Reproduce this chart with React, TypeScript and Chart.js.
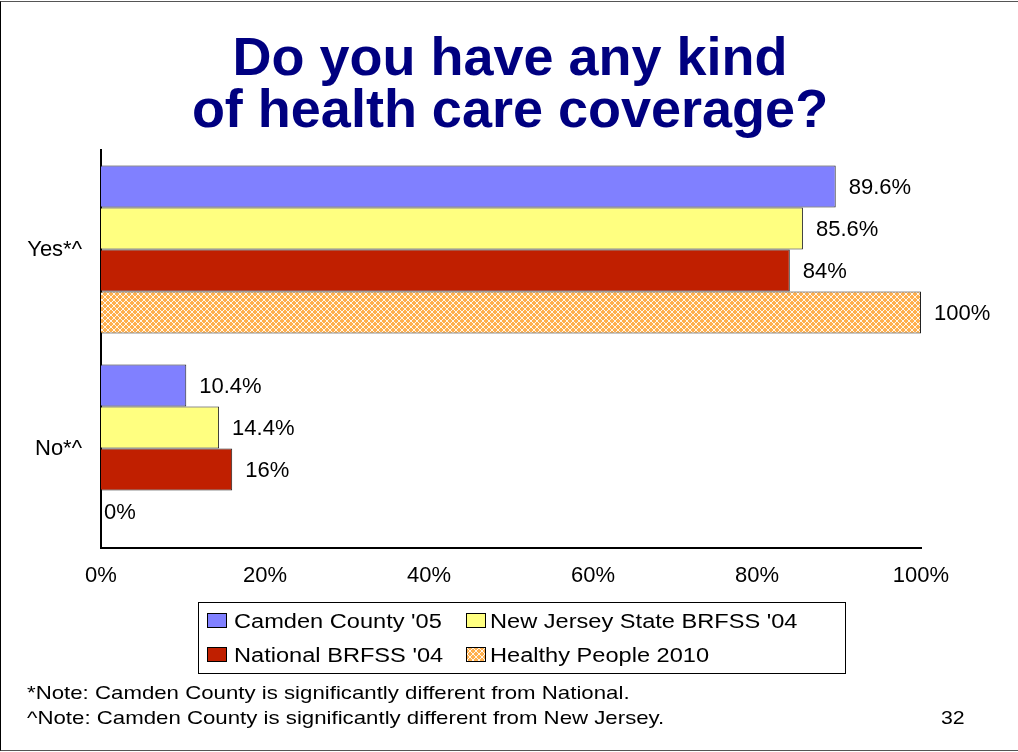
import React, { useEffect, useRef } from "react";
import { Chart, registerables } from "chart.js";

Chart.register(...registerables);

const categories = ["Yes*^", "No*^"];
const seriesNames = ["Camden County '05", "New Jersey State BRFSS '04", "National BRFSS '04", "Healthy People 2010"];
const camdenCounty = [89.6, 10.4];
const newJerseyState = [85.6, 14.4];
const nationalBrfss = [84, 16];
const healthyPeople = [100, 0];
const xTickValues = [0, 20, 40, 60, 80, 100];

const titleLines = ["Do you have any kind", "of health care coverage?"];
const notes = [
  "*Note: Camden County is significantly different from National.",
  "^Note: Camden County is significantly different from New Jersey.",
];
const pageNumber = "32";

const FONT = "'Liberation Sans', Arial, sans-serif";
const BLUE = "#8080FF";
const YELLOW = "#FFFF80";
const RED = "#C01F00";
const ORANGE = "#FFB04E";

function makePatternCanvas(): HTMLCanvasElement {
  const c = document.createElement("canvas");
  c.width = 6;
  c.height = 6;
  const g = c.getContext("2d")!;
  g.fillStyle = ORANGE;
  g.fillRect(0, 0, 6, 6);
  g.strokeStyle = "rgba(255,255,255,0.9)";
  g.lineWidth = 1;
  g.beginPath();
  g.moveTo(-1, -1);
  g.lineTo(7, 7);
  g.moveTo(7, -1);
  g.lineTo(-1, 7);
  g.stroke();
  return c;
}

const valueLabels = {
  id: "valueLabels",
  afterDatasetsDraw(chart: any) {
    const ctx = chart.ctx;
    ctx.save();
    ctx.font = `22px ${FONT}`;
    ctx.fillStyle = "#000";
    ctx.textAlign = "left";
    ctx.textBaseline = "middle";
    chart.data.datasets.forEach((ds: any, i: number) => {
      const meta = chart.getDatasetMeta(i);
      meta.data.forEach((bar: any, j: number) => {
        const v = ds.data[j];
        const off = v === 0 ? 3 : 13;
        ctx.fillText(`${v}%`, bar.x + off, bar.y + 1);
      });
    });
    ctx.restore();
  },
};

export default function App() {
  const canvasRef = useRef<HTMLCanvasElement | null>(null);
  const patternCanvas = useRef<HTMLCanvasElement | null>(null);
  if (!patternCanvas.current && typeof document !== "undefined") {
    patternCanvas.current = makePatternCanvas();
  }
  const patternUrl = patternCanvas.current ? patternCanvas.current.toDataURL() : "";

  useEffect(() => {
    const canvas = canvasRef.current!;
    const ctx = canvas.getContext("2d")!;
    const pattern = ctx.createPattern(patternCanvas.current!, "repeat");
    const colors: any[] = [BLUE, YELLOW, RED, pattern];
    const seriesData = [camdenCounty, newJerseyState, nationalBrfss, healthyPeople];
    const chart = new Chart(canvas, {
      type: "bar",
      data: {
        labels: categories,
        datasets: seriesData.map((d, i) => ({
          label: seriesNames[i],
          data: d,
          backgroundColor: colors[i],
          borderColor: "#222",
          borderWidth: 1,
          borderSkipped: "start",
          barPercentage: 1,
          categoryPercentage: 0.845,
        })),
      },
      options: {
        indexAxis: "y",
        responsive: false,
        animation: false,
        devicePixelRatio: 1,
        layout: { padding: { left: 0, top: 150, right: 97, bottom: 164 } },
        plugins: {
          legend: { display: false },
          title: { display: false },
          tooltip: { enabled: false },
        },
        scales: {
          x: {
            type: "linear",
            min: 0,
            max: 100,
            afterBuildTicks: (scale: any) => {
              scale.ticks = xTickValues.map((v) => ({ value: v }));
            },
            afterFit: (scale: any) => {
              scale.height = 40;
            },
            ticks: {
              callback: (v: any) => `${v}%`,
              color: "#000",
              font: { family: FONT, size: 22 },
              padding: 15,
              maxRotation: 0,
            },
            grid: { display: false, drawTicks: false },
            border: { display: true, color: "#000", width: 2 },
          },
          y: {
            type: "category",
            afterFit: (scale: any) => {
              scale.width = 101;
            },
            ticks: {
              color: "#000",
              font: { family: FONT, size: 22 },
              padding: 19,
            },
            grid: { display: false, drawTicks: false },
            border: { display: true, color: "#000", width: 2 },
          },
        },
      },
      plugins: [valueLabels],
    });
    return () => chart.destroy();
  }, []);

  const legendSwatches = [
    { bg: BLUE, img: "" },
    { bg: YELLOW, img: "" },
    { bg: RED, img: "" },
    { bg: ORANGE, img: patternUrl },
  ];
  const legendPos = [
    { sx: 207, tx: 234, cy: 621 },
    { sx: 466, tx: 490, cy: 621 },
    { sx: 207, tx: 234, cy: 655 },
    { sx: 466, tx: 490, cy: 655 },
  ];

  return (
    <div
      style={{
        position: "absolute",
        left: 0,
        top: 0,
        width: 1018,
        height: 752,
        background: "#fff",
        overflow: "hidden",
        fontFamily: FONT,
      }}
    >
      <div
        style={{
          position: "absolute",
          left: 0,
          top: 1,
          width: 1030,
          height: 748,
          borderLeft: "1px solid #000",
          borderTop: "1px solid #555",
          borderBottom: "1px solid #555",
        }}
      />
      <div
        style={{
          position: "absolute",
          left: 0,
          top: 30,
          width: 1020,
          textAlign: "center",
          fontWeight: "bold",
          fontSize: 54,
          lineHeight: "52px",
          color: "#000080",
          whiteSpace: "nowrap",
        }}
      >
        {titleLines.map((t, i) => (
          <div key={i}>{t}</div>
        ))}
      </div>
      <canvas ref={canvasRef} width={1018} height={752} style={{ position: "absolute", left: 0, top: 0, width: 1018, height: 752 }} />
      <div
        style={{
          position: "absolute",
          left: 198,
          top: 602,
          width: 646,
          height: 70,
          border: "1px solid #000",
        }}
      />
      {seriesNames.map((name, i) => (
        <React.Fragment key={name}>
          <div
            style={{
              position: "absolute",
              left: legendPos[i].sx,
              top: legendPos[i].cy - 8,
              width: 18,
              height: 13,
              border: "1px solid #000",
              backgroundColor: legendSwatches[i].bg,
              backgroundImage: legendSwatches[i].img ? `url(${legendSwatches[i].img})` : "none",
            }}
          />
          <div
            style={{
              position: "absolute",
              left: legendPos[i].tx,
              top: legendPos[i].cy - 12,
              fontSize: 20,
              lineHeight: "24px",
              color: "#000",
              whiteSpace: "nowrap",
              transform: "scaleX(1.18)",
              transformOrigin: "left center",
            }}
          >
            {name}
          </div>
        </React.Fragment>
      ))}
      {notes.map((n, i) => (
        <div
          key={i}
          style={{
            position: "absolute",
            left: 27,
            top: 682 + i * 25,
            fontSize: 19,
            lineHeight: "22px",
            color: "#000",
            whiteSpace: "nowrap",
            transform: "scaleX(1.17)",
            transformOrigin: "left center",
          }}
        >
          {n}
        </div>
      ))}
      <div
        style={{
          position: "absolute",
          left: 941,
          top: 707,
          fontSize: 19,
          lineHeight: "22px",
          color: "#000",
          transform: "scaleX(1.12)",
          transformOrigin: "left center",
        }}
      >
        {pageNumber}
      </div>
    </div>
  );
}
